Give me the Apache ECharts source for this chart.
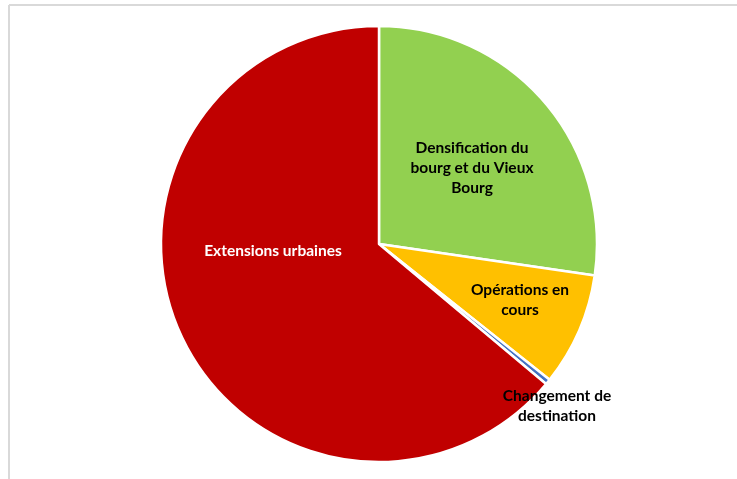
<!DOCTYPE html>
<html>
<head>
<meta charset="utf-8">
<script src="https://cdn.jsdelivr.net/npm/echarts@6/dist/echarts.min.js"></script>
<style>
  html, body { margin: 0; padding: 0; background: #ffffff; }
  #chart { width: 737px; height: 479px; }
</style>
</head>
<body>
<div id="chart"></div>
<script>
// Répartition des logements par type d'opération
const categories = [
  "Densification du\nbourg et du Vieux\nBourg",
  "Opérations en\ncours",
  "Changement de\ndestination",
  "Extensions urbaines"
];
const values = [27.3, 8.4, 0.4, 63.9];
const colors = ["#92d050", "#ffc000", "#4472c4", "#c00000"];
const labelColors = ["#000000", "#000000", "#000000", "#ffffff"];

// Label anchor points (pixels) for each slice
const labelPos = [[472, 168], [520, 300], [557, 406], [273, 251]];

const chart = echarts.init(document.getElementById('chart'), null, { renderer: 'canvas' });

chart.setOption({
  backgroundColor: '#ffffff',
  animation: false,
  graphic: [
    { type: 'line', shape: { x1: 9, y1: 5, x2: 737, y2: 5 }, style: { stroke: '#d9d9d9', lineWidth: 2 } },
    { type: 'line', shape: { x1: 9, y1: 5, x2: 9, y2: 479 }, style: { stroke: '#d9d9d9', lineWidth: 2 } }
  ],
  series: [{
    type: 'pie',
    center: [379, 244],
    radius: [0, 218],
    startAngle: 90,
    clockwise: true,
    avoidLabelOverlap: false,
    itemStyle: { borderColor: '#ffffff', borderWidth: 2.5 },
    label: {
      show: true,
      position: 'inside',
      fontFamily: 'Lato',
      fontWeight: 'bold',
      fontSize: 15.5,
      lineHeight: 20,
      align: 'center'
    },
    labelLine: { show: false },
    labelLayout: function (p) {
      const pos = labelPos[p.dataIndex];
      return { x: pos[0], y: pos[1], align: 'center', verticalAlign: 'middle' };
    },
    data: categories.map((name, i) => ({
      name: name,
      value: values[i],
      itemStyle: { color: colors[i] },
      label: { color: labelColors[i], formatter: '{b}' }
    }))
  }]
});
</script>
</body>
</html>
